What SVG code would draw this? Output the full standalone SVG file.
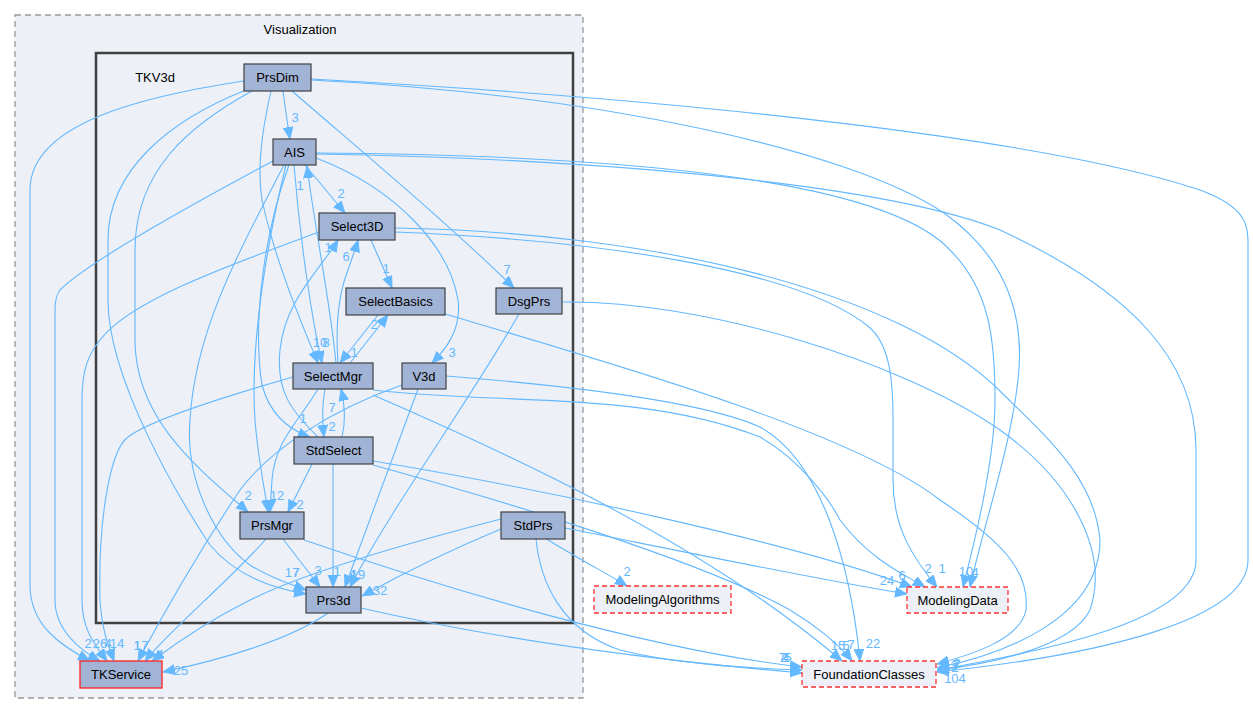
<svg xmlns="http://www.w3.org/2000/svg" width="1253" height="715" viewBox="0 0 1253 715">
<style>
.n rect{fill:#a2b4d6;stroke:#404040;stroke-width:1.2}
.x rect{fill:#edf0f7;stroke:#ff3333;stroke-width:1.3;stroke-dasharray:5,3}
text{font-family:"Liberation Sans",Arial,sans-serif;font-size:13px}
.t{text-anchor:middle;fill:#000}
.e path{fill:none;stroke:#63b8ff;stroke-width:1.1;marker-end:url(#a)}
.l text{fill:#63b8ff;text-anchor:middle;font-size:13px}
</style>
<defs>
<marker id="a" markerUnits="userSpaceOnUse" markerWidth="14" markerHeight="12" refX="12" refY="5" orient="auto">
<path d="M0,0 L12,5 L0,10 z" fill="#63b8ff" stroke="#63b8ff" stroke-width="0.8"/>
</marker>
</defs>
<rect width="1253" height="715" fill="#fff"/>
<g id="cluster_Visualization">
<rect x="15" y="15" width="568" height="683" fill="#edf0f7" stroke="#999" stroke-width="1.3" stroke-dasharray="6,4"/>
<text class="t" x="300" y="34">Visualization</text>
</g>
<g id="cluster_TKV3d">
<rect x="96" y="53" width="477" height="570" fill="#edf0f7" stroke="#404040" stroke-width="2.5"/>
<text class="t" x="155" y="82">TKV3d</text>
</g>
<g id="edges" class="e">
<path d="M283,91 C285,106 287,121 290,139"/>
<path d="M292,91 C360,150 450,225 514,288"/>
<path d="M244,81 C175,92 30,115 30,190 L30,585 C30,625 60,645 90,661"/>
<path d="M252,91 C190,125 135,170 135,250 L135,340 C135,420 200,470 248,512"/>
<path d="M246,90 C170,120 108,170 108,240 L108,300 C108,380 180,500 210,545 C235,575 270,588 306,594"/>
<path d="M271,91 C262,130 257,170 262,200 C275,260 300,320 318,363"/>
<path d="M311,80 C600,95 850,150 944,213 C1010,260 1025,320 1018,380 C1010,450 985,520 970,587"/>
<path d="M311,79 C700,100 1050,140 1200,190 C1240,205 1248,220 1248,240 L1248,560 C1248,620 1100,655 937,672"/>
<path d="M305,165 L345,213"/>
<path d="M316,158 C400,190 450,250 458,300 C462,330 445,350 432,363"/>
<path d="M294,165 C300,240 312,320 322,363"/>
<path d="M289,165 C265,230 252,320 262,385 C270,415 290,430 310,437"/>
<path d="M286,165 C265,250 250,350 255,420 C258,460 265,490 268,512"/>
<path d="M284,165 C240,250 195,330 190,420 C185,480 215,540 250,565 C270,578 290,584 306,590"/>
<path d="M273,161 C200,200 90,260 60,290 C56,295 55,300 55,310 L55,600 C55,630 80,650 100,661"/>
<path d="M316,153 C600,155 880,175 950,250 C990,290 995,340 995,400 C995,460 975,540 963,587"/>
<path d="M316,154 C650,160 900,190 1000,230 C1130,290 1196,360 1196,450 L1196,560 C1196,620 1050,650 937,670"/>
<path d="M371,240 L392,288"/>
<path d="M319,232 C230,265 130,300 100,340 C88,355 82,370 82,400 L82,600 C82,630 95,645 107,661"/>
<path d="M395,232 C600,240 800,270 869,327 C890,345 893,380 893,420 L893,480 C893,530 915,560 937,587"/>
<path d="M395,228 C650,232 900,290 1002,393 C1050,440 1095,480 1100,540 C1100,620 1000,655 937,668"/>
<path d="M445,314 C600,360 850,430 940,500 C1000,540 1030,570 1026,610 C1020,640 970,655 937,664"/>
<path d="M350,363 L388,315"/>
<path d="M378,315 L340,363"/>
<path d="M338,363 C335,320 340,290 348,270 C352,258 355,250 358,240"/>
<path d="M318,437 C290,410 276,390 280,350 C285,300 320,270 338,240"/>
<path d="M336,363 C330,300 315,230 307,166"/>
<path d="M325,389 C322,405 322,420 324,437"/>
<path d="M342,437 C346,420 345,405 341,389"/>
<path d="M318,389 C300,420 275,440 272,480 L270,512"/>
<path d="M293,377 C230,395 150,420 128,437 C110,450 98,520 100,600 C102,630 108,645 114,661"/>
<path d="M373,390 C500,405 640,390 760,437 C800,460 830,500 840,520 C870,560 905,575 925,587"/>
<path d="M373,395 C500,450 700,540 842,661"/>
<path d="M418,389 L345,587"/>
<path d="M402,385 C330,410 270,450 240,490 C200,550 160,620 138,661"/>
<path d="M446,376 C560,385 700,400 760,427 C820,460 850,560 860,661"/>
<path d="M519,314 C470,400 390,510 350,587"/>
<path d="M562,302 C700,300 900,360 1000,430 C1070,480 1110,550 1090,610 C1070,650 980,665 937,670"/>
<path d="M312,464 L288,512"/>
<path d="M333,464 L333,587"/>
<path d="M373,461 C550,490 800,545 912,587"/>
<path d="M373,465 C500,500 700,560 790,610 C815,625 840,645 852,661"/>
<path d="M501,529 C450,550 400,575 362,596"/>
<path d="M501,519 C400,545 300,575 250,600 C210,620 180,640 152,661"/>
<path d="M545,538 C580,560 610,575 627,586"/>
<path d="M565,528 C700,555 820,580 907,594"/>
<path d="M536,539 C540,580 560,630 620,650 C680,665 750,668 802,670"/>
<path d="M283,539 L320,587"/>
<path d="M266,539 C230,580 170,630 145,661"/>
<path d="M304,540 C450,590 650,650 802,667"/>
<path d="M328,613 C290,640 220,660 163,672"/>
<path d="M361,608 C500,640 650,660 802,673"/>
</g>
<g id="edge_labels" class="l">
<text x="295" y="122">3</text>
<text x="507" y="274">7</text>
<text x="341" y="198">2</text>
<text x="300" y="190">1</text>
<text x="386" y="273">1</text>
<text x="328" y="252">1</text>
<text x="346" y="261">6</text>
<text x="374" y="329">2</text>
<text x="354" y="357">1</text>
<text x="320" y="347">10</text>
<text x="326" y="347">8</text>
<text x="452" y="357">3</text>
<text x="332" y="412">7</text>
<text x="332" y="431">2</text>
<text x="303" y="423">1</text>
<text x="248" y="500">2</text>
<text x="277" y="500">12</text>
<text x="300" y="509">2</text>
<text x="292" y="577">17</text>
<text x="296" y="577">7</text>
<text x="318" y="575">3</text>
<text x="337" y="576">1</text>
<text x="352" y="579">4</text>
<text x="358" y="579">19</text>
<text x="380" y="595">32</text>
<text x="88" y="648">2</text>
<text x="100" y="648">26</text>
<text x="108" y="648">4</text>
<text x="117" y="648">14</text>
<text x="137" y="650">1</text>
<text x="141" y="650">17</text>
<text x="160" y="659">4</text>
<text x="181" y="675">25</text>
<text x="627" y="576">2</text>
<text x="887" y="585">24</text>
<text x="902" y="580">6</text>
<text x="928" y="573">2</text>
<text x="942" y="573">1</text>
<text x="966" y="576">10</text>
<text x="975" y="577">4</text>
<text x="838" y="650">15</text>
<text x="846" y="650">5</text>
<text x="851" y="649">7</text>
<text x="873" y="648">22</text>
<text x="782" y="662">7</text>
<text x="786" y="662">4</text>
<text x="788" y="662">5</text>
<text x="784" y="662">2</text>
<text x="954" y="670">3</text>
<text x="956" y="669">7</text>
<text x="955" y="672">2</text>
<text x="957" y="668">2</text>
<text x="955" y="683">104</text>
</g>
<g id="PrsDim" class="n"><rect x="244" y="64" width="67" height="27"/><text class="t" x="277.5" y="82">PrsDim</text></g>
<g id="AIS" class="n"><rect x="273" y="139" width="43" height="26"/><text class="t" x="294.5" y="157">AIS</text></g>
<g id="Select3D" class="n"><rect x="319" y="213" width="76" height="27"/><text class="t" x="357" y="231">Select3D</text></g>
<g id="SelectBasics" class="n"><rect x="346" y="288" width="99" height="27"/><text class="t" x="395.5" y="306">SelectBasics</text></g>
<g id="DsgPrs" class="n"><rect x="496" y="288" width="66" height="26"/><text class="t" x="529" y="306">DsgPrs</text></g>
<g id="SelectMgr" class="n"><rect x="293" y="363" width="80" height="26"/><text class="t" x="333" y="381">SelectMgr</text></g>
<g id="V3d" class="n"><rect x="402" y="363" width="44" height="26"/><text class="t" x="424" y="381">V3d</text></g>
<g id="StdSelect" class="n"><rect x="294" y="437" width="79" height="27"/><text class="t" x="333.5" y="455">StdSelect</text></g>
<g id="PrsMgr" class="n"><rect x="240" y="512" width="64" height="27"/><text class="t" x="272" y="530">PrsMgr</text></g>
<g id="StdPrs" class="n"><rect x="501" y="512" width="64" height="27"/><text class="t" x="533" y="530">StdPrs</text></g>
<g id="Prs3d" class="n"><rect x="306" y="587" width="55" height="26"/><text class="t" x="333.5" y="605">Prs3d</text></g>
<g id="TKService" class="n"><rect x="80" y="661" width="82" height="27" style="stroke:#ff2020;stroke-width:1.3"/><text class="t" x="121" y="679">TKService</text></g>
<g id="ModelingAlgorithms" class="x"><rect x="594" y="586" width="137" height="27"/><text class="t" x="662.5" y="604">ModelingAlgorithms</text></g>
<g id="ModelingData" class="x"><rect x="907" y="587" width="101" height="26"/><text class="t" x="957.5" y="605">ModelingData</text></g>
<g id="FoundationClasses" class="x"><rect x="802" y="661" width="134" height="26"/><text class="t" x="869" y="679">FoundationClasses</text></g>
</svg>
